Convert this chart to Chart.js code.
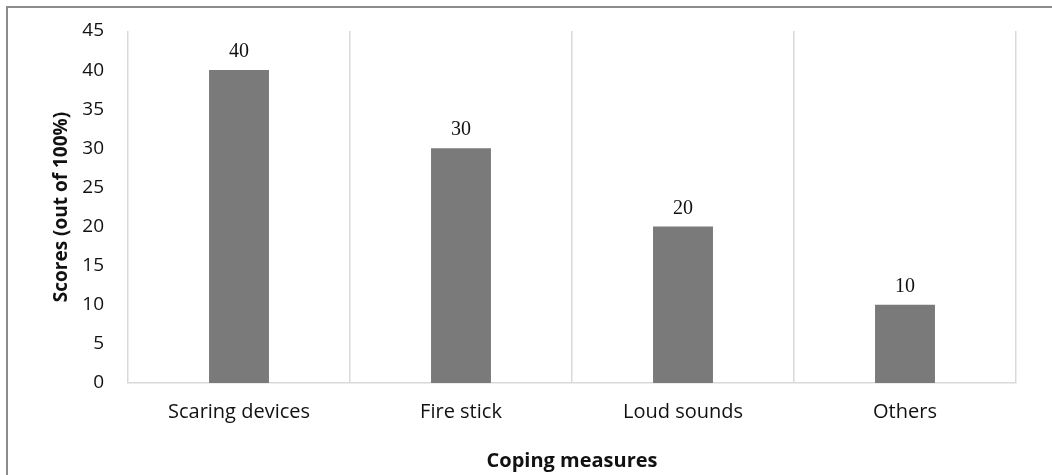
<!DOCTYPE html>
<html>
<head>
<meta charset="utf-8">
<script src="https://cdn.jsdelivr.net/npm/chart.js@4/dist/chart.umd.min.js"></script>
<style>
  html, body { margin: 0; padding: 0; background: #fff; }
  #wrap { width: 1052px; height: 475px; position: relative; }
</style>
</head>
<body>
<div id="wrap"><canvas id="myChart" width="1052" height="475"></canvas></div>
<script>
const measures = ['Scaring devices', 'Fire stick', 'Loud sounds', 'Others'];
const scores = [40, 30, 20, 10];
const yTicks = [0, 5, 10, 15, 20, 25, 30, 35, 40, 45];

const barColor = '#7a7a7a';
const gridColor = '#d9d9d9';

// grey frame on the top and left edge, like the original figure
const framePlugin = {
    id: 'frame',
    beforeDraw(chart) {
        const c = chart.ctx;
        c.save();
        c.strokeStyle = '#8c8c8c';
        c.lineWidth = 2;
        c.beginPath();
        c.moveTo(7, chart.height);
        c.lineTo(7, 7);
        c.lineTo(chart.width, 7);
        c.stroke();
        c.restore();
    }
};

// value labels above each bar
const valueLabels = {
    id: 'valueLabels',
    afterDatasetsDraw(chart) {
        const c = chart.ctx;
        const meta = chart.getDatasetMeta(0);
        c.save();
        c.font = '20px "Liberation Serif", "Times New Roman", serif';
        c.fillStyle = '#111';
        c.textAlign = 'center';
        c.textBaseline = 'alphabetic';
        meta.data.forEach((bar, i) => {
            c.fillText(String(scores[i]), bar.x, bar.y - 13);
        });
        c.restore();
    }
};

const ctx = document.getElementById('myChart').getContext('2d');

const myChart = new Chart(ctx, {
    type: 'bar',
    data: {
        labels: measures,
        datasets: [{
            label: 'Scores',
            data: scores,
            backgroundColor: barColor,
            borderWidth: 0,
            categoryPercentage: 1,
            barPercentage: 0.27
        }]
    },
    options: {
        responsive: false,
        maintainAspectRatio: false,
        animation: false,
        layout: {
            padding: {top: 31, right: 36, bottom: 0, left: 0}
        },
        scales: {
            x: {
                grid: {
                    display: true,
                    offset: true,
                    drawTicks: false,
                    color: gridColor,
                    lineWidth: 1.5
                },
                border: {display: true, color: gridColor, width: 1.5},
                ticks: {
                    color: '#111',
                    padding: 17,
                    font: {family: '"Open Sans", sans-serif', size: 20}
                },
                title: {
                    display: true,
                    text: 'Coping measures',
                    color: '#111',
                    font: {family: '"Open Sans", sans-serif', size: 20, weight: 'bold'},
                    padding: {top: 0, bottom: 2}
                },
                afterFit(scale) {
                    scale.height = 92;
                }
            },
            y: {
                min: 0,
                max: 45,
                grid: {display: false, drawTicks: false},
                border: {display: false},
                afterBuildTicks(scale) {
                    scale.ticks = yTicks.map(v => ({value: v}));
                },
                ticks: {
                    color: '#111',
                    padding: 24,
                    font: {family: '"Open Sans", sans-serif', size: 19}
                },
                title: {
                    display: true,
                    text: 'Scores (out of 100%)',
                    color: '#111',
                    font: {family: '"Open Sans", sans-serif', size: 19, weight: 'bold'},
                    padding: {top: 50, bottom: 0}
                },
                afterFit(scale) {
                    scale.width = 128;
                    // tick padding should not push the plot area down
                    scale.paddingTop = 0;
                    scale.paddingBottom = 0;
                }
            }
        },
        plugins: {
            legend: {display: false},
            tooltip: {enabled: false}
        }
    },
    plugins: [framePlugin, valueLabels]
});
</script>
</body>
</html>
